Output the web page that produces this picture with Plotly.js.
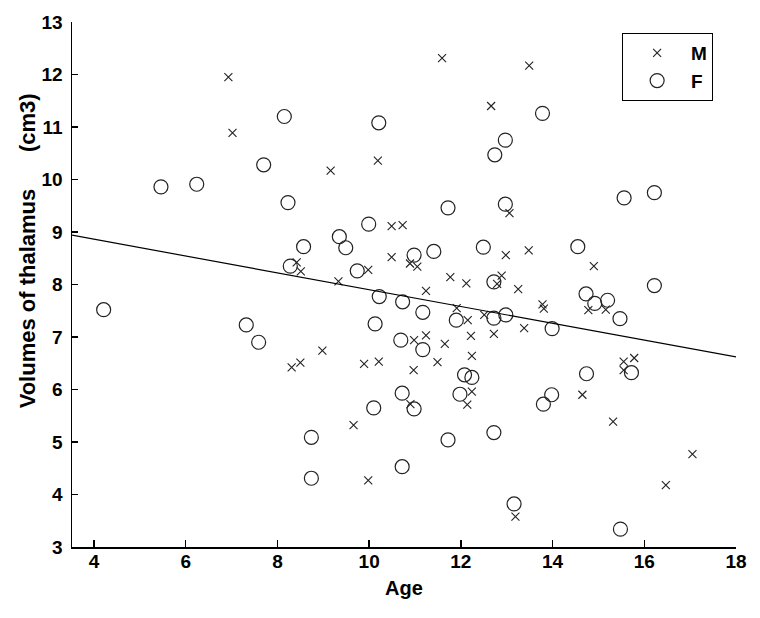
<!DOCTYPE html>
<html>
<head>
<meta charset="utf-8">
<script src="https://cdn.plot.ly/plotly-3.0.1.min.js"></script>
<style>html,body{margin:0;padding:0;background:#fff;}#chart{width:760px;height:618px;}</style>
</head>
<body>
<div id="chart"></div>
<script>
// Male (M) points
const maleAge = [6.93,7.02,9.16,10.19,8.42,8.51,9.98,9.33,8.31,8.50,8.98,9.89,10.21,9.66,9.98,
  11.59,13.49,12.66,13.06,10.49,10.73,10.49,10.89,11.05,12.98,13.48,14.90,11.77,12.12,11.24,
  12.89,12.79,13.25,13.78,13.81,11.91,12.15,12.51,13.38,12.72,12.22,14.78,15.16,10.98,11.24,
  11.65,10.97,11.49,12.24,12.24,12.14,10.90,13.19,16.47,17.05,15.32,14.65,15.55,15.78,15.55];
const maleVol = [11.95,10.89,10.17,10.36,8.42,8.25,8.28,8.06,6.42,6.51,6.74,6.49,6.53,5.32,4.27,
  12.31,12.17,11.40,9.36,9.11,9.13,8.52,8.40,8.34,8.56,8.65,8.35,8.14,8.02,7.88,
  8.17,8.01,7.91,7.62,7.54,7.55,7.32,7.42,7.17,7.06,7.02,7.51,7.52,6.94,7.03,
  6.87,6.37,6.52,6.64,5.96,5.71,5.72,3.58,4.18,4.77,5.39,5.90,6.53,6.60,6.37];
// Female (F) points
const femaleAge = [4.21,5.46,6.24,7.32,7.59,7.70,8.15,8.23,8.57,8.28,8.74,8.74,9.35,9.49,9.74,
  9.99,10.21,10.22,10.13,10.10,10.72,10.98,10.72,10.73,10.69,11.17,11.17,10.98,11.41,11.72,
  11.90,11.98,12.08,12.24,11.72,12.49,12.72,12.72,12.98,12.72,12.74,12.97,12.97,13.78,13.16,
  13.99,13.98,13.80,14.55,14.73,14.92,15.20,15.47,14.74,15.72,15.56,16.22,16.22,15.48];
const femaleVol = [7.52,9.86,9.91,7.23,6.90,10.28,11.20,9.56,8.72,8.35,5.09,4.31,8.91,8.70,8.26,
  9.15,11.08,7.77,7.25,5.65,5.93,5.63,4.53,7.67,6.94,7.47,6.76,8.56,8.63,9.46,
  7.32,5.91,6.28,6.23,5.04,8.71,8.05,7.36,7.42,5.18,10.47,10.75,9.53,11.26,3.82,
  7.16,5.90,5.72,8.72,7.82,7.64,7.70,7.35,6.30,6.32,9.65,9.75,7.98,3.34];
// Regression line endpoints
const fitAge = [3.52, 18];
const fitVol = [8.94, 6.62];
const xTicks = [4,6,8,10,12,14,16,18];
const yTicks = [3,4,5,6,7,8,9,10,11,12,13];

const FONT = 'Liberation Sans, Arial, sans-serif';
const ink = '#222';
const NB = '\u00A0';

const traces = [
  {x: maleAge, y: maleVol, name: 'M', type: 'scatter', mode: 'markers',
   marker: {symbol: 'x-thin-open', size: 8, color: ink, line: {color: ink, width: 1.1}}},
  {x: femaleAge, y: femaleVol, name: 'F', type: 'scatter', mode: 'markers',
   marker: {symbol: 'circle-open', size: 14, color: ink, line: {color: ink, width: 1.2}}},
  {x: fitAge, y: fitVol, type: 'scatter', mode: 'lines', showlegend: false,
   line: {color: '#000', width: 1.2}, hoverinfo: 'skip'}
];

const yTitle = '\u200B' + NB.repeat(11) + 'Volumes of thalamus' + NB.repeat(6) + '(cm3)';

const layout = {
  width: 760, height: 618,
  margin: {l: 72, r: 24, t: 22, b: 71, pad: 0},
  paper_bgcolor: '#fff', plot_bgcolor: '#fff',
  font: {family: FONT, color: '#000', size: 20},
  showlegend: true,
  legend: {x: 0.8285, y: 0.979, xanchor: 'left', yanchor: 'top',
    bordercolor: '#000', borderwidth: 1, bgcolor: '#fff',
    font: {family: FONT, size: 19, weight: 'bold', color: '#000'},
    itemwidth: 58, tracegroupgap: 0},
  xaxis: {range: [3.52, 18], tickvals: xTicks, ticktext: xTicks.map(String),
    ticks: 'inside', ticklen: 7, tickwidth: 1.3, tickcolor: '#000',
    showline: true, linecolor: '#000', linewidth: 1.5, showgrid: false, zeroline: false,
    tickfont: {family: FONT, size: 19, weight: 'bold'}, ticklabelstandoff: -3,
    title: {text: 'Age', font: {family: FONT, size: 20, weight: 'bold'}, standoff: 9}},
  yaxis: {range: [3, 13], tickvals: yTicks, ticktext: yTicks.map(String),
    ticks: 'inside', ticklen: 6, tickwidth: 1.3, tickcolor: '#000',
    showline: true, linecolor: '#000', linewidth: 1.5, showgrid: false, zeroline: false,
    tickfont: {family: FONT, size: 19, weight: 'bold'}, ticklabelstandoff: 4,
    title: {text: yTitle, font: {family: FONT, size: 22, weight: 'bold'}, standoff: 0}}
};

Plotly.newPlot('chart', traces, layout, {displayModeBar: false, staticPlot: true});
</script>
</body>
</html>
